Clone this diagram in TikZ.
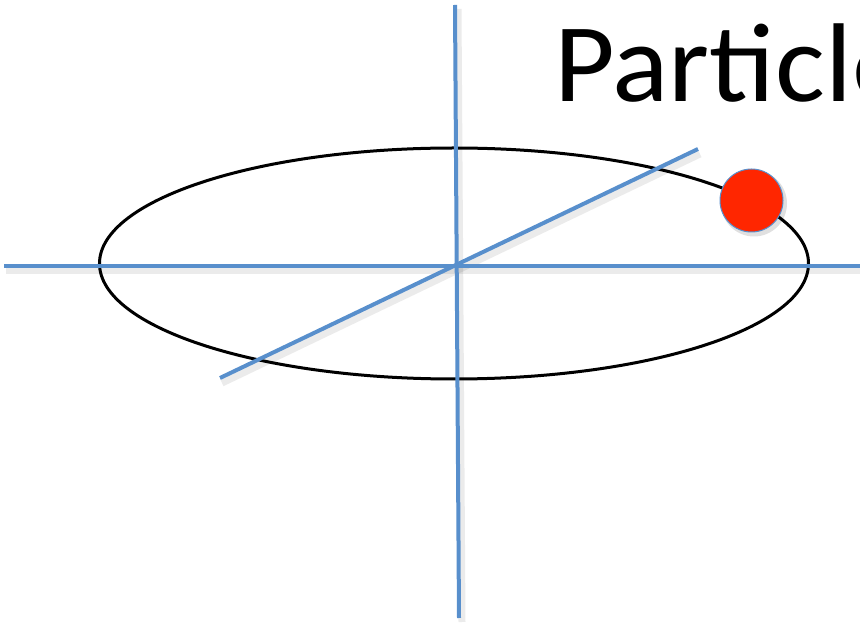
\documentclass[tikz,border=0pt]{standalone}
\usepackage{fontspec}
\setmainfont{Carlito}
\definecolor{axisblue}{RGB}{88,143,204}
\definecolor{ballred}{RGB}{255,38,0}
\tikzset{
  axis/.style={draw=axisblue, line width=4pt},
  axshadow/.style={draw=black, opacity=0.08, line width=7pt},
  orbit/.style={draw=black, line width=3pt},
}
\begin{document}
\begin{tikzpicture}[x=1pt,y=1pt]
\useasboundingbox (0,0) rectangle (860,627);
\clip (0,0) rectangle (860,627);
% coordinates (y flipped)
\coordinate (hl) at (4,361);
\coordinate (hr) at (862,361);
\coordinate (vt) at (455,622);
\coordinate (vb) at (459,9);
\coordinate (dl) at (220,249);
\coordinate (dr) at (698,478);
\coordinate (c) at (454,363.5);
% title
\node[anchor=base west, inner sep=0pt, font=\fontsize{112}{124}\selectfont] (title) at (554,525) {\scalebox{1.05}[1]{Particle}};
% orbit
\draw[orbit] (c) ellipse [x radius=354.5, y radius=115.5];
% axis shadows
\draw[axshadow] ([shift={(2,-5)}]hl) -- ([shift={(2,-5)}]hr);
\draw[axshadow] ([shift={(3,-4)}]vt) -- ([shift={(3,-4)}]vb);
\draw[axshadow] ([shift={(2,-5)}]dl) -- ([shift={(2,-5)}]dr);
% axes
\draw[axis] (hl) -- (hr);
\draw[axis] (vt) -- (vb);
\draw[axis] (dl) -- (dr);
% particle
\fill[black, opacity=0.12] (754,423.5) circle (33);
\node[circle, fill=ballred, draw=axisblue, line width=1pt, minimum size=63pt, inner sep=0pt] (ball) at (751.5,426.5) {};
\end{tikzpicture}
\end{document}
